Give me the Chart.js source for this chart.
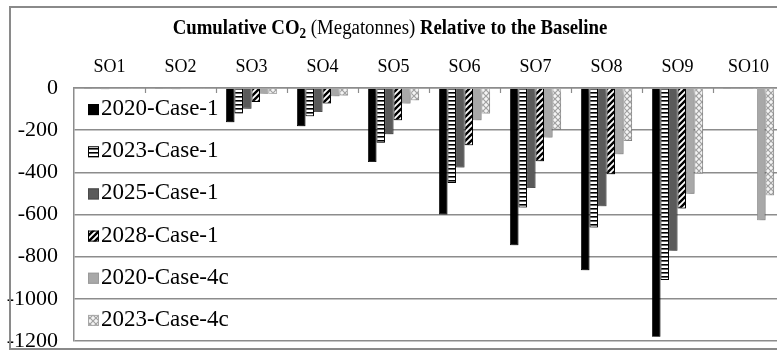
<!DOCTYPE html>
<html>
<head>
<meta charset="utf-8">
<script src="https://cdn.jsdelivr.net/npm/chart.js@4.4.1/dist/chart.umd.min.js"></script>
<style>
html,body{margin:0;padding:0;background:#fff;overflow:hidden;width:777px;height:352px;}
#c{display:block;}
</style>
</head>
<body>
<canvas id="c" width="800" height="352"></canvas>
<script>
// ---- data ----
const categories = ['SO1','SO2','SO3','SO4','SO5','SO6','SO7','SO8','SO9','SO10'];
const seriesNames = ['2020-Case-1','2023-Case-1','2025-Case-1','2028-Case-1','2020-Case-4c','2023-Case-4c'];
const s2020c1  = [-5, -5, -162, -181, -351, -600, -746, -864, -1180, -2];
const s2023c1  = [-5, -5, -121, -134, -260, -450, -567, -662, -911, -2];
const s2025c1  = [-6, -6, -98, -114, -219, -377, -474, -561, -772, -2];
const s2028c1  = [-3, -3, -66, -74, -153, -272, -347, -409, -572, -2];
const s2020c4c = [-2, -2, -27, -39, -74, -153, -235, -314, -501, -627];
const s2023c4c = [-2, -2, -27, -35, -58, -121, -197, -251, -406, -509];
const yTicks = [0, -200, -400, -600, -800, -1000, -1200];

// ---- patterns ----
function tile(w, h, draw){
  const c = document.createElement('canvas'); c.width = w; c.height = h;
  const x = c.getContext('2d'); draw(x, w, h);
  return document.getElementById('c').getContext('2d').createPattern(c, 'repeat');
}
const patHoriz = tile(4, 4, (x,w,h)=>{ x.fillStyle='#fff'; x.fillRect(0,0,w,h); x.fillStyle='#000'; x.fillRect(0,0,w,1.6); });
const patDiag = tile(6, 6, (x,w,h)=>{
  x.fillStyle='#fff'; x.fillRect(0,0,w,h);
  x.strokeStyle='#000'; x.lineWidth=2.4;
  x.beginPath(); x.moveTo(-1,7); x.lineTo(7,-1); x.moveTo(-4,4); x.lineTo(4,-4); x.moveTo(2,10); x.lineTo(10,2); x.stroke();
});
const patCross = tile(6, 6, (x,w,h)=>{
  x.fillStyle='#f4f4f4'; x.fillRect(0,0,w,h);
  x.strokeStyle='#a0a0a0'; x.lineWidth=1.2;
  x.beginPath();
  x.moveTo(0,0); x.lineTo(6,6); x.moveTo(6,0); x.lineTo(0,6);
  x.stroke();
});

const fills   = ['#000000', patHoriz, '#5a5a5a', patDiag, '#a8a8a8', patCross];
const borders = ['#000000', '#000000', '#4a4a4a', '#000000', '#9a9a9a', '#a8a8a8'];
const values  = [s2020c1, s2023c1, s2025c1, s2028c1, s2020c4c, s2023c4c];

const datasets = seriesNames.map((n,i)=>({
  label: n,
  data: values[i],
  backgroundColor: fills[i],
  borderColor: borders[i],
  borderWidth: (i===1||i===3)?1:0.8,
  categoryPercentage: 0.72,
  barPercentage: 1.0
}));

const SERIF = '"Liberation Serif", "Times New Roman", serif';

const decor = {
  id: 'decor',
  beforeDatasetsDraw(chart){
    const ctx = chart.ctx;
    ctx.save();
    ctx.shadowColor = 'rgba(0,0,0,0.4)';
    ctx.shadowBlur = 5;
    ctx.shadowOffsetX = 2;
    ctx.shadowOffsetY = 3;
  },
  afterDatasetsDraw(chart){
    chart.ctx.restore();
    // inner tick marks between categories
    const ctx = chart.ctx, xs = chart.scales.x, top = chart.chartArea.top;
    ctx.save();
    ctx.strokeStyle = '#8c8c8c'; ctx.lineWidth = 1.2;
    for (let i = 1; i < categories.length; i++){
      const px = Math.round((xs.getPixelForValue(i-1) + xs.getPixelForValue(i))/2) + 0.5;
      ctx.beginPath(); ctx.moveTo(px, top); ctx.lineTo(px, top+5); ctx.stroke();
    }
    ctx.restore();
  },
  afterDraw(chart){
    const ctx = chart.ctx, ys = chart.scales.y;
    ctx.save();
    // frame
    ctx.strokeStyle = '#8a8a8a'; ctx.lineWidth = 2;
    ctx.strokeRect(10, 7, 800, 342);
    // title (slightly condensed, mixed bold/regular)
    const parts = [
      {t:'Cumulative CO', f:'bold 20px '+SERIF, dy:0},
      {t:'2', f:'bold 14px '+SERIF, dy:4},
      {t:' (Megatonnes) ', f:'20px '+SERIF, dy:0},
      {t:'Relative to the Baseline', f:'bold 20px '+SERIF, dy:0}
    ];
    const sx = 0.94;
    let total = 0;
    parts.forEach(p=>{ ctx.font = p.f; p.w = ctx.measureText(p.t).width; total += p.w; });
    ctx.save();
    ctx.translate(390 - total*sx/2, 34);
    ctx.scale(sx, 1);
    let x = 0;
    ctx.fillStyle = '#000'; ctx.textBaseline = 'alphabetic'; ctx.textAlign = 'left';
    parts.forEach(p=>{ ctx.font = p.f; ctx.fillText(p.t, x, p.dy); x += p.w; });
    ctx.restore();
    // legend (overlaid in plot area)
    ctx.font = '23px ' + SERIF;
    ctx.textBaseline = 'middle';
    seriesNames.forEach((n,i)=>{
      const cy = ys.getPixelForValue(-100 - 200*i);
      ctx.fillStyle = fills[i];
      ctx.fillRect(88, cy-5, 11, 11);
      ctx.strokeStyle = borders[i]; ctx.lineWidth = 1;
      ctx.strokeRect(88.5, cy-4.5, 10, 10);
      ctx.fillStyle = '#000';
      ctx.fillText(n, 101, cy);
    });
    ctx.restore();
  }
};

new Chart(document.getElementById('c'), {
  type: 'bar',
  data: { labels: categories, datasets },
  options: {
    responsive: false,
    animation: false,
    devicePixelRatio: 1,
    layout: { padding: { left: 0, top: 40, right: 16, bottom: 11 } },
    plugins: { legend: { display: false }, title: { display: false }, tooltip: { enabled: false } },
    scales: {
      x: {
        position: 'top',
        offset: true,
        grid: { display: false, drawTicks: false },
        border: { display: true, color: '#8c8c8c', width: 1.5 },
        ticks: { color: '#000', font: { family: SERIF, size: 18 }, padding: 10, maxRotation: 0, autoSkip: false },
        afterFit(s){ s.height = 48; s.paddingLeft = 0; s.paddingRight = 0; }
      },
      y: {
        min: -1200, max: 0,
        afterBuildTicks(s){ s.ticks = yTicks.map(v=>({value:v})); },
        grid: { color: '#8c8c8c', lineWidth: 1.5, drawTicks: false },
        border: { display: true, color: '#8c8c8c', width: 1.5 },
        ticks: { color: '#000', font: { family: SERIF, size: 22 }, padding: 16, callback: v => String(v) },
        afterFit(s){ s.width = 74; s.paddingTop = 0; s.paddingBottom = 0; }
      }
    }
  },
  plugins: [decor]
});
</script>
</body>
</html>
